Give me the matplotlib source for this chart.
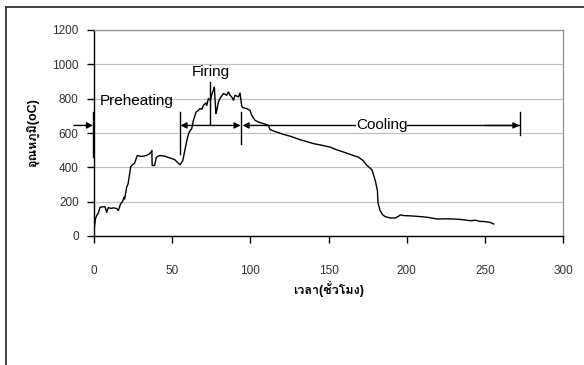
import matplotlib
matplotlib.use("Agg")
import matplotlib.pyplot as plt
from matplotlib import font_manager as fm
from matplotlib.ft2font import FT2Font
from matplotlib.lines import Line2D

# kiln firing curve: time (hours) vs temperature (oC)
hours = [0, 0.4, 0.9, 1.7, 2.8, 3.8, 5.5, 7, 8.1, 9.2, 10.8, 12.4, 14.5, 15.6, 17,
         18.2, 19.2, 19.6, 20.9, 21.8, 22.8, 23.5, 25, 26, 27.7, 30.3, 33.5, 35.6,
         36.7, 37.0, 37.2, 38.8, 39.9, 42, 45.2, 48.4, 51.6, 53.8, 55.1, 56.8, 58.3,
         59.4, 60.5, 61.5, 62.5, 63.6, 65.3, 66.8, 67.8, 68.9, 70, 71.5, 72.1, 73.2,
         74.5, 75.5, 76.4, 77.0, 77.4, 78, 78.5, 79.6, 80.6, 82.8, 84.9, 86, 87, 88.1,
         89.2, 90.2, 92.4, 93.4, 94.5, 95.2, 97.7, 99.8, 100.9, 103, 105.1, 108.3,
         111.5, 112.6, 116, 121.2, 126, 131.8, 136, 140.4, 145, 151, 155, 159.6, 164,
         169.2, 172, 174.6, 177.8, 179.9, 181.3, 181.6, 183, 184.5, 186.2, 189.5,
         192.7, 194.8, 195.9, 198, 203, 208.7, 214, 219.3, 225, 230, 235, 240.7, 244,
         247, 250, 253.5, 255.6]
temps = [40, 60, 100, 119, 135, 167, 170, 171, 138, 167, 160, 164, 160, 148, 187,
         200, 226, 215, 284, 304, 362, 405, 417, 425, 469, 463, 469, 479,
         492, 498, 411, 411, 459, 469, 465, 455, 445, 425, 415, 440, 508,
         557, 596, 615, 625, 674, 722, 732, 742, 738, 761, 775, 760, 801,
         790, 830, 849, 868, 800, 713, 730, 781, 801, 830, 820, 839, 820, 810,
         791, 820, 810, 833, 756, 748, 742, 732, 703, 674, 664, 655,
         645, 620, 608, 592, 580, 561, 550, 538, 530, 518, 503, 489, 475,
         459, 440, 411, 386, 323, 265, 196, 148, 125, 113, 105,
         105, 115, 123, 119, 117, 113, 108, 99, 100, 99, 96, 89, 92,
         85, 84, 79, 70]

x_ticks = [0, 50, 100, 150, 200, 250, 300]
y_ticks = [0, 200, 400, 600, 800, 1000, 1200]
x_label = "เวลา(ชั่วโมง)"
y_label = "อุณหภูมิ(oC)"

# find an installed font that has Thai glyphs
thai_font = None
for f in fm.fontManager.ttflist:
    try:
        if FT2Font(f.fname).get_char_index(0x0E2D):
            thai_font = f.name
            break
    except Exception:
        pass
fams = ["Liberation Sans", "DejaVu Sans"]
if thai_font:
    fams = ["Liberation Sans", thai_font, "DejaVu Sans"]
plt.rcParams["font.family"] = fams

fig = plt.figure(figsize=(5.84, 3.65), dpi=100)
ax = fig.add_axes([94/584, 1-236/365, (563-94)/584, (236-30)/365])

ax.plot(hours, temps, color="black", lw=1.0)
ax.set_xlim(0, 300)
ax.set_ylim(0, 1200)
ax.set_xticks(x_ticks)
ax.set_yticks(y_ticks)
ax.yaxis.grid(True, color="#c0c0c0", lw=0.9)
ax.set_axisbelow(True)
for s in ["top", "right"]:
    ax.spines[s].set_color("#909090")
    ax.spines[s].set_linewidth(0.9)
for s in ["left", "bottom"]:
    ax.spines[s].set_color("black")
    ax.spines[s].set_linewidth(1.0)
ax.tick_params(axis="both", direction="out", length=5, width=1, colors="black",
               labelsize=8.5, labelcolor="#333333")
ax.tick_params(axis="x", pad=16)
ax.tick_params(axis="y", pad=6)

ax.set_xlabel(x_label, fontsize=9, fontweight="bold", labelpad=3)
ax.set_ylabel(y_label, fontsize=9, fontweight="bold", labelpad=9)

arrow = dict(arrowstyle="-|>", color="black", lw=1.0, mutation_scale=9,
             shrinkA=0, shrinkB=0)
yarr = 644
# markers between stages
ax.plot([-0.6, -0.6], [463, 722], color="black", lw=1.0, clip_on=False)
ax.annotate("", xy=(-0.6, yarr), xytext=(-12.8, yarr), arrowprops=arrow,
            annotation_clip=False)
ax.plot([55, 55], [475, 722], color="black", lw=1.0)
ax.plot([74.4, 74.4], [yarr, 898], color="black", lw=1.0)
ax.annotate("", xy=(55.3, yarr), xytext=(74.4, yarr), arrowprops=arrow)
ax.annotate("", xy=(93.8, yarr), xytext=(74.4, yarr), arrowprops=arrow)
ax.plot([94.2, 94.2], [534, 722], color="black", lw=1.0)
ax.annotate("", xy=(95, yarr), xytext=(110, yarr), arrowprops=arrow)
ax.plot([110, 272], [yarr, yarr], color="black", lw=1.0)
ax.annotate("", xy=(272.2, yarr), xytext=(250, yarr), arrowprops=arrow)
ax.plot([272.6, 272.6], [590, 722], color="black", lw=1.0)

ax.text(3.8, 784, "Preheating", fontsize=11, ha="left", va="center")
ax.text(74.6, 956, "Firing", fontsize=11, ha="center", va="center")
ax.text(184, yarr, "Cooling", fontsize=11, ha="center", va="center",
        bbox=dict(facecolor="white", edgecolor="none", pad=0))

# outer chart border (clipped at right/bottom)
fig.add_artist(Line2D([6/584, 1], [1-7/365, 1-7/365], color="#333333", lw=1.3))
fig.add_artist(Line2D([6/584, 6/584], [0, 1-7/365], color="#333333", lw=1.3))

fig.savefig("out.png", dpi=100)
